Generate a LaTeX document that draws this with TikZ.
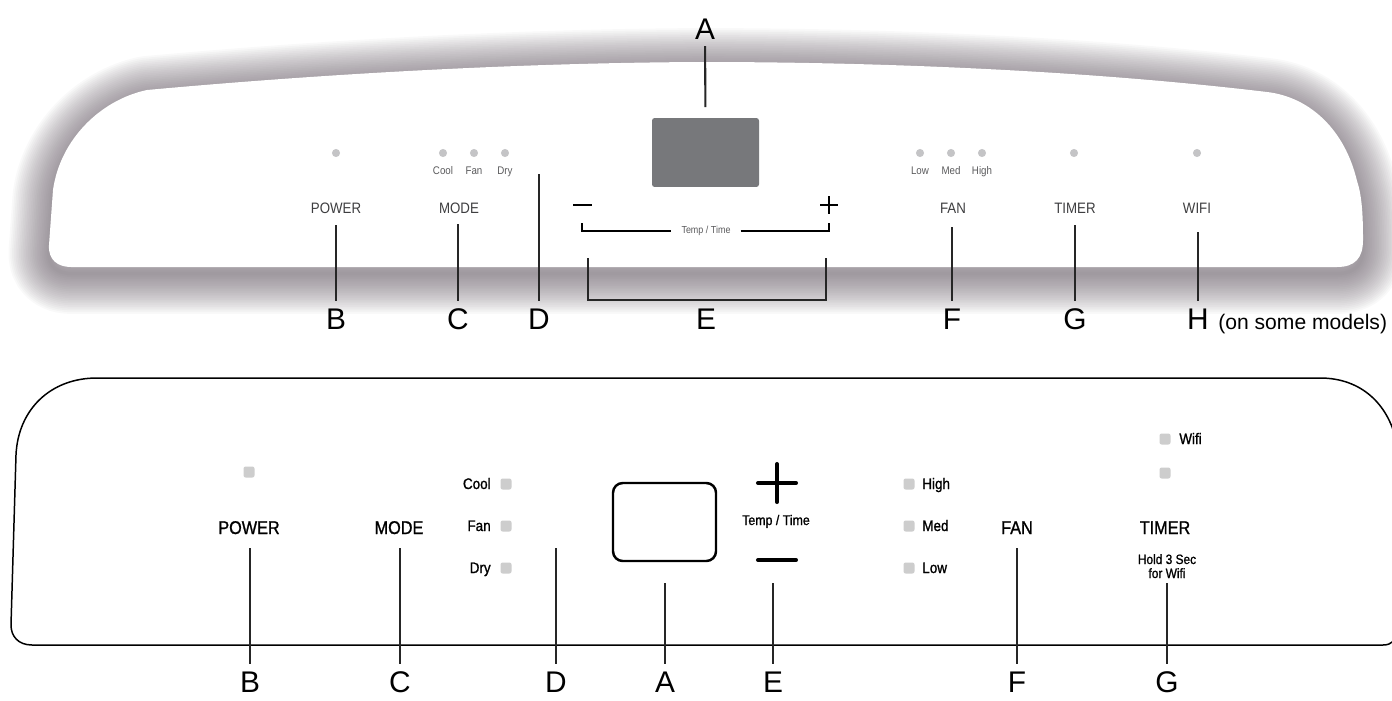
\documentclass[tikz,border=0pt]{standalone}
\usepackage{fontspec}
\setmainfont{Liberation Sans}
\newfontfamily\panelfont[FakeStretch=0.88]{Liberation Sans}
\newfontfamily\panelbold[FakeStretch=0.88, FakeBold=1.1]{Liberation Sans}
\usepackage{tikz}
\usetikzlibrary{calc}
\definecolor{LedGrey}{RGB}{205,205,205}
\definecolor{LedTop}{RGB}{196,196,198}
\definecolor{ScreenGrey}{RGB}{119,120,123}
\definecolor{ShadowGrey}{RGB}{100,88,100}
\definecolor{PanelText}{RGB}{62,62,64}

\newcommand{\toppanel}{(71,267) -- (1337,267) .. controls (1355,267) and (1363,258) .. (1363,240) .. controls (1363,215) and (1362,196) .. (1357,181) .. controls (1345,130) and (1310,97) .. (1267,92) .. controls (1100,72) and (900,62) .. (700,62) .. controls (500,63) and (300,76) .. (147,90) .. controls (100,100) and (60,140) .. (53,190) -- (49,245) .. controls (48,260) and (58,267) .. (71,267) -- cycle}
\newcommand{\bottompanel}{(97,378) -- (1320,378) .. controls (1362,378) and (1388,405) .. (1396,440) -- (1396,632) .. controls (1396,640) and (1392,645) .. (1383,645) -- (32,645) .. controls (18,645) and (11,636) .. (11,625) -- (16,455) .. controls (18,410) and (50,378) .. (97,378) -- cycle}

\begin{document}
\begin{tikzpicture}[x=0.02cm, y=-0.02cm,
    letter/.style={font=\fontsize{17}{17}\selectfont, inner sep=0pt, outer sep=0pt, anchor=base},
    lead/.style={line width=1.2pt, black!85},
    keytop/.style={font=\panelfont\fontsize{8.6}{9}\selectfont, text=PanelText, anchor=base, inner sep=0pt},
    ledtop/.style={font=\panelfont\fontsize{6.3}{7}\selectfont, text=PanelText!85, anchor=base, inner sep=0pt},
    keybot/.style={font=\panelbold\fontsize{10.5}{11}\selectfont, anchor=base, inner sep=0pt},
    ledbot/.style={font=\panelbold\fontsize{8.7}{9}\selectfont, inner sep=0pt}]
    \useasboundingbox (0,0) rectangle (1392,700);
    \fill[white] (0,0) rectangle (1392,700);
    \begin{scope}
    \clip (0,0) rectangle (1392,700);
    % shadow of the upper panel
    \foreach \w in {2,4,...,46}
    {
    \draw[ShadowGrey, opacity=0.036, line width=\w pt, line join=round, yshift=-0.13cm] \toppanel;
    }
    \fill[white] \toppanel;
    \draw[line width=0.85pt] \bottompanel;
    \end{scope}

    % upper panel
    \foreach \x in {336,443,474,505,920,951,982,1074,1197}
    \fill[LedTop] (\x,153) circle (2.3pt);
    \foreach \x/\t in {443/Cool,474/Fan,505/Dry,920/Low,951/Med,982/High}
    \node[ledtop] (small\t) at (\x,174) {\t};
    \foreach \x/\t in {336/POWER,459/MODE,953/FAN,1075/TIMER,1197/WIFI}
    \node[keytop] (key\t) at (\x,213) {\t};
    \node[fill=ScreenGrey, rounded corners=1.5pt, minimum width=2.14cm, minimum height=1.38cm, inner sep=0pt] (screenT) at (705.5,152.5) {};
    \draw[line width=0.9pt] (573,205) to (592,205);
    \draw[line width=0.9pt] (820,205) to (838,205) (829,196) to (829,214);
    \node[font=\panelfont\fontsize{5.8}{6}\selectfont, text=PanelText!85, inner xsep=5.5pt, inner ysep=0pt] (tempT) at (706,231) {Temp / Time};
    \draw[line width=1.3pt] (582,223) to (582,231) to (tempT.west);
    \draw[line width=1.3pt] (tempT.east) to (829,231) to (829,223);

    % letters of the upper panel
    \node[letter] (topA) at (705,39) {A};
    \draw[lead, shorten <=4pt, shorten >=6pt] (topA.south) to (screenT.north);
    \foreach \x/\l/\s in {336/B/225,458/C/224,539/D/174,952/F/227,1075/G/225,1198/H/232}
    {
    \node[letter] (top\l) at (\x,329) {\l};
    \coordinate (top\l0) at (\x,\s);
    \draw[lead, shorten >=4pt] (top\l0) to (top\l.north);
    }
    \node[letter] (topE) at (706,329) {E};
    \coordinate (e1) at (588,258);
    \coordinate (e2) at (826,258);
    \draw[lead] (e1) to (588,300) to (826,300) to (e2);
    \node[font=\fontsize{12}{12}\selectfont, anchor=base west, inner sep=0pt] (models) at (1218,329) {(on some models)};

    % lower panel
    \fill[LedGrey, rounded corners=1.2pt] (243.5,466.5) rectangle (254.5,477.5);
    \foreach \y/\t in {484/Cool,526/Fan,568/Dry}
    {
    \fill[LedGrey, rounded corners=1.2pt] (500.5,\y-5.5) rectangle (511.5,\y+5.5);
    \node[ledbot, anchor=base east] (mode\t) at (491,\y+5) {\t};
    }
    \foreach \y/\t in {484/High,526/Med,568/Low}
    {
    \fill[LedGrey, rounded corners=1.2pt] (903.5,\y-5.5) rectangle (914.5,\y+5.5);
    \node[ledbot, anchor=base west] (fan\t) at (922,\y+5) {\t};
    }
    \fill[LedGrey, rounded corners=1.2pt] (1159.5,433.5) rectangle (1170.5,444.5);
    \fill[LedGrey, rounded corners=1.2pt] (1159.5,467.5) rectangle (1170.5,478.5);
    \node[ledbot, anchor=base west] (wifi) at (1179,444) {Wifi};
    \foreach \x/\t in {249/POWER,399/MODE,1017/FAN,1165/TIMER}
    \node[keybot] (btn\t) at (\x,534) {\t};
    \node[font=\panelbold\fontsize{7.7}{8}\selectfont, anchor=base, inner sep=0pt] (hold) at (1167,564) {Hold 3 Sec};
    \node[font=\panelbold\fontsize{7.7}{8}\selectfont, anchor=base, inner sep=0pt] (forwifi) at (1167,578) {for Wifi};
    \node[draw, line width=1.4pt, rounded corners=5.5pt, minimum width=2.06cm, minimum height=1.56cm, inner sep=0pt] (screenB) at (664.5,522) {};
    \draw[line width=2.3pt, line cap=round] (758,483) to (796,483) (777,464) to (777,502);
    \draw[line width=2.3pt, line cap=round] (758,560) to (796,560);
    \node[font=\panelbold\fontsize{8}{8}\selectfont, anchor=base, inner sep=0pt] (tempB) at (776,525) {Temp / Time};

    % letters of the lower panel
    \foreach \x/\l/\s in {250/B/548,400/C/548,556/D/548,665/A/583,773/E/583,1017/F/548,1167/G/583}
    {
    \node[letter] (bot\l) at (\x,692) {\l};
    \coordinate (bot\l0) at (\x,\s);
    \draw[lead, shorten >=4pt] (bot\l0) to (bot\l.north);
    }
\end{tikzpicture}
\end{document}
